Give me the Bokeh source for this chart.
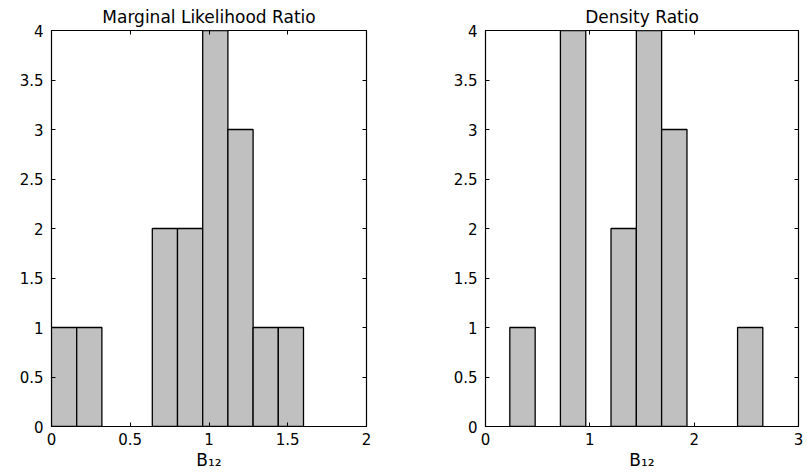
from bokeh.plotting import figure
from bokeh.models import Range1d, FixedTicker, LinearAxis
from bokeh.layouts import row
from bokeh.embed import file_html
from bokeh.resources import INLINE

# ---- data ----
ml_title = "Marginal Likelihood Ratio"
ml_edges = [0.0, 0.16, 0.32, 0.48, 0.64, 0.80, 0.96, 1.12, 1.28, 1.44, 1.60]
ml_counts = [1, 1, 0, 0, 2, 2, 4, 3, 1, 1]
ml_xticks = [0, 0.5, 1, 1.5, 2]
ml_xlabels = ["0", "0.5", "1", "1.5", "2"]

dr_title = "Density Ratio"
dr_edges = [0.233, 0.476, 0.718, 0.961, 1.203, 1.446, 1.688, 1.931, 2.173, 2.416, 2.658]
dr_counts = [1, 0, 4, 0, 2, 4, 3, 0, 0, 1]
dr_xticks = [0, 1, 2, 3]
dr_xlabels = ["0", "1", "2", "3"]

yticks = [0, 0.5, 1, 1.5, 2, 2.5, 3, 3.5, 4]
ylabels = ["0", "0.5", "1", "1.5", "2", "2.5", "3", "3.5", "4"]
xlabel = "B\u2081\u2082"

FONT = "DejaVu Sans"


def tick_only_axis(ticks):
    # axis that only draws inward ticks (MATLAB box style), no labels
    return LinearAxis(ticker=FixedTicker(ticks=ticks),
                      major_label_text_font_size="1px",
                      major_label_text_color=None,
                      major_tick_in=4, major_tick_out=0,
                      major_tick_line_color="black",
                      minor_tick_in=0, minor_tick_out=0,
                      major_label_standoff=0, axis_line_color=None)


def panel(title, edges, counts, xticks, xlabels, xmax, width, mbl, mbr):
    p = figure(width=width, height=476, title=title,
               x_range=Range1d(0, xmax), y_range=Range1d(0, 4),
               output_backend="svg", toolbar_location=None,
               min_border_left=mbl, min_border_right=mbr,
               min_border_top=29, min_border_bottom=50)
    p.title.align = "center"
    p.title.text_font = FONT
    p.title.text_font_size = "17px"
    p.title.text_font_style = "normal"
    p.title.text_color = "black"
    p.title.standoff = 8
    p.grid.visible = False
    p.outline_line_color = "black"
    p.outline_line_width = 1.2
    p.background_fill_color = "white"
    p.border_fill_color = "white"

    lefts = [edges[i] for i in range(len(counts)) if counts[i] > 0]
    rights = [edges[i + 1] for i in range(len(counts)) if counts[i] > 0]
    tops = [c for c in counts if c > 0]
    p.quad(left=lefts, right=rights, bottom=0, top=tops,
           fill_color="#c0c0c0", line_color="black", line_width=1.3)

    xa = p.xaxis[0]
    xa.ticker = FixedTicker(ticks=xticks)
    xa.major_label_overrides = {t: l for t, l in zip(xticks, xlabels)}
    ya = p.yaxis[0]
    ya.ticker = FixedTicker(ticks=yticks)
    ya.major_label_overrides = {t: l for t, l in zip(yticks, ylabels)}
    for ax in (xa, ya):
        ax.major_tick_in = 4
        ax.major_tick_out = 0
        ax.minor_tick_in = 0
        ax.minor_tick_out = 0
        ax.axis_line_color = "black"
        ax.major_tick_line_color = "black"
        ax.major_label_text_font = FONT
        ax.major_label_text_font_size = "15px"
        ax.major_label_text_color = "black"
    xa.major_label_standoff = 6
    ya.major_label_standoff = 8
    xa.axis_label = xlabel
    xa.axis_label_text_font = FONT
    xa.axis_label_text_font_size = "17px"
    xa.axis_label_text_font_style = "normal"
    xa.axis_label_text_color = "black"
    xa.axis_label_standoff = 2

    p.add_layout(tick_only_axis(xticks), "above")
    p.add_layout(tick_only_axis(yticks), "right")
    return p


p1 = panel(ml_title, ml_edges, ml_counts, ml_xticks, ml_xlabels, 2, 420, 51, 54)
p2 = panel(dr_title, dr_edges, dr_counts, dr_xticks, dr_xlabels, 3, 387, 65, 9)

layout = row(p1, p2)
open("out.html", "w").write(file_html(layout, INLINE))
